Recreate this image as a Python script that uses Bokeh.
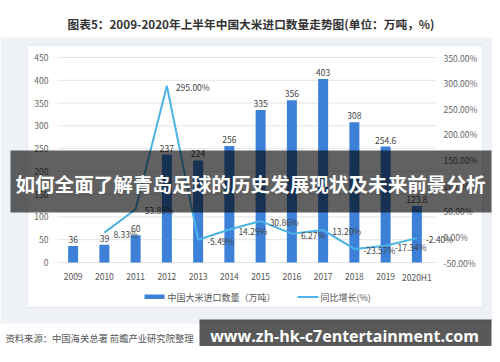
from bokeh.plotting import figure
from bokeh.models import Range1d
from bokeh.core.properties import value
from bokeh.embed import file_html
from bokeh.resources import INLINE

# ---------------- data ----------------
title_text = "图表5：2009-2020年上半年中国大米进口数量走势图(单位：万吨，%)"
years = ["2009", "2010", "2011", "2012", "2013", "2014", "2015",
         "2016", "2017", "2018", "2019", "2020H1"]
imports = [36, 39, 60, 237, 224, 256, 335, 356, 403, 308, 254.6, 123.8]
growth_years = years[1:]
growth = [8.33, 53.85, 295.00, -5.49, 14.29, 30.86, 6.27, 13.20,
          -23.57, -17.34, -2.40]
left_ticks = [0, 50, 100, 150, 200, 250, 300, 350, 400, 450]
right_ticks = [-50, 0, 50, 100, 150, 200, 250, 300, 350]
legend_labels = ["中国大米进口数量（万吨）", "同比增长(%)"]
banner_text = "如何全面了解青岛足球的历史发展现状及未来前景分析"
source_text = "资料来源：中国海关总署 前瞻产业研究院整理"
url_text = "www.zh-hk-c7entertainment.com"

# ---------------- layout (reference pixel coordinates) ----------------
OX, OY = 0, 0
W, H = 492, 346
PL, PR = 57, 432              # plot area left / right
PT, PB = 57, 262              # y of top tick / zero line
n = len(years)
step = (PR - PL) / n
kq = (PB - PT) / (left_ticks[-1] - left_ticks[0])
kp = (PB - PT) / (right_ticks[-1] - right_ticks[0])

CJK = "Noto Sans CJK SC"
BAR = "#3d80d8"
LINE = "#4cb4e4"

p = figure(width=W, height=H, output_backend="svg", toolbar_location=None,
           x_axis_type=None, y_axis_type=None, min_border=0,
           x_range=Range1d(OX, OX + W), y_range=Range1d(OY + H, OY),
           background_fill_color="white", border_fill_color="white",
           outline_line_color=None)

# category x range: index i centred at PL + step*(i+0.5)
p.extra_x_ranges = {"cx": Range1d((OX - PL) / step - 0.5, (OX + W - PL) / step - 0.5)}
p.extra_y_ranges = {
    "qty": Range1d(left_ticks[0] + (PB - (OY + H)) / kq, left_ticks[0] + (PB - OY) / kq),
    "pct": Range1d(right_ticks[0] + (PB - (OY + H)) / kp, right_ticks[0] + (PB - OY) / kp),
}
idx = list(range(n))
gidx = [years.index(y) for y in growth_years]

# backgrounds
p.quad(left=0, right=492, top=37, bottom=323, fill_color="#eef2f7", line_color=None)
p.quad(left=27, right=482, top=45, bottom=307, fill_color="white", line_color="#e4e8ee")

# gridlines
p.segment(x0=PL, x1=435, y0=left_ticks, y1=left_ticks, y_range_name="qty",
          line_color="#e3e3e3", line_width=1)

# bars
p.vbar(x=idx, top=imports, bottom=0, width=0.32, x_range_name="cx",
       y_range_name="qty", fill_color=BAR, line_color=None)
p.text(x=idx, y=imports, text=[f"{v:g}" for v in imports], x_range_name="cx",
       y_range_name="qty", text_align="center", text_baseline="bottom", y_offset=-3,
       text_font=value(CJK), text_font_size="8.5px", text_color="#444444")

# growth line
p.line(x=gidx, y=growth, x_range_name="cx", y_range_name="pct",
       line_color=LINE, line_width=2)
p.text(x=gidx, y=growth, text=[f"{g:.2f}%" for g in growth], x_range_name="cx",
       y_range_name="pct", text_align="left", text_baseline="middle", x_offset=9,
       y_offset=1, text_font=value(CJK), text_font_size="8.5px", text_color="#444444")

# axis labels
p.text(x=48, y=left_ticks, text=[str(t) for t in left_ticks], y_range_name="qty",
       text_align="right", text_baseline="middle", text_font=value(CJK),
       text_font_size="8.5px", text_color="#666666")
p.text(x=443, y=right_ticks, text=[f"{t:.2f}%" for t in right_ticks], y_range_name="pct",
       text_align="left", text_baseline="middle", text_font=value(CJK),
       text_font_size="8.5px", text_color="#666666")
p.text(x=idx, y=276, text=years, x_range_name="cx", text_align="center",
       text_baseline="middle", text_font=value(CJK), text_font_size="8.5px",
       text_color="#555555")

# legend
p.quad(left=144, right=164, top=294, bottom=298.5, fill_color=BAR, line_color=None)
p.text(x=167, y=296.5, text=[legend_labels[0]], text_align="left", text_baseline="middle",
       text_font=value(CJK), text_font_size="9px", text_color="#555555")
p.segment(x0=297, x1=318, y0=296.5, y1=296.5, line_color=LINE, line_width=2)
p.text(x=320, y=296.5, text=[legend_labels[1]], text_align="left", text_baseline="middle",
       text_font=value(CJK), text_font_size="9px", text_color="#555555")

# title
p.text(x=250.5, y=23, text=[title_text], text_align="center", text_baseline="middle",
       text_font=value(CJK), text_font_size="11.7px", text_font_style="bold",
       text_color="#333333")

# overlay banner
p.quad(left=10, right=491, top=150, bottom=212, fill_color="black", fill_alpha=0.62,
       line_color=None)
p.text(x=250, y=183, text=[banner_text], text_align="center", text_baseline="middle",
       text_font=value(CJK), text_font_size="19.6px", text_font_style="bold",
       text_color="white")

# source + url box
p.text(x=5, y=337, text=[source_text], text_align="left", text_baseline="middle",
       text_font=value(CJK), text_font_size="9.3px", text_color="#555555")
p.quad(left=199, right=491, top=319, bottom=353, fill_color="black", fill_alpha=0.65,
       line_color=None)
p.text(x=344, y=335, text=[url_text], text_align="center", text_baseline="middle",
       text_font=value("Open Sans"), text_font_size="16px", text_font_style="bold",
       text_color="white")

open("out.html", "w").write(file_html(p, INLINE))
